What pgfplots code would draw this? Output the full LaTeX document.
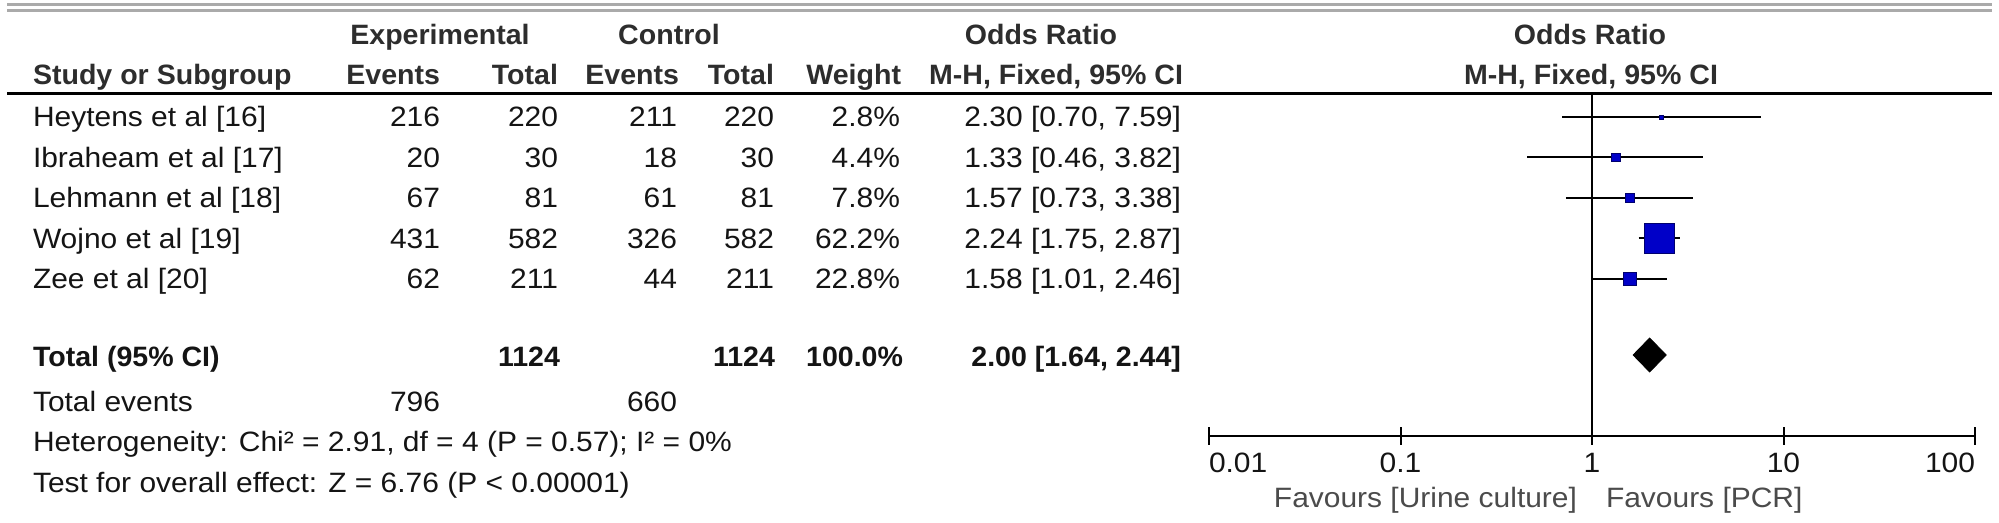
\documentclass[border=0pt]{standalone}
\usepackage{fontspec}
\setmainfont{Liberation Sans}[FakeStretch=1.07,BoldFeatures={FakeStretch=1.02}]
\usepackage{pgfplots}
\pgfplotsset{compat=1.18}
\definecolor{sqfill}{RGB}{0,0,200}
\definecolor{sqdraw}{RGB}{0,0,110}
\definecolor{rulegray}{RGB}{170,170,170}
\definecolor{favgray}{RGB}{75,75,75}
\definecolor{txt}{RGB}{20,20,20}
\definecolor{hdr}{RGB}{45,45,45}
\newcommand\fs{\fontsize{14}{17}\selectfont}
\begin{document}
\begin{tikzpicture}[font=\fs,
  lt/.style={inner sep=0pt,outer sep=0pt,anchor=base west,text=txt},
  rt/.style={inner sep=0pt,outer sep=0pt,anchor=base east,text=txt},
  ct/.style={inner sep=0pt,outer sep=0pt,anchor=base,text=txt}]
\begin{scope}[x=0.5pt,y=-0.5pt]
\useasboundingbox (0,0) rectangle (1999,523);
% rules
\draw[rulegray, line width=1.5pt] (7,5) -- (1992,5);
\draw[rulegray, line width=1.5pt] (7,11) -- (1992,11);
\draw[black, line width=1.5pt] (7,94) -- (1992,94);
% header row 1
\begin{scope}[every node/.append style={font=\fs\bfseries}]
\node[ct,text=hdr] at (440,45) {Experimental};
\node[ct,text=hdr] at (669,45) {Control};
\node[ct,text=hdr] at (1041,45) {Odds Ratio};
\node[ct,text=hdr] at (1590,45) {Odds Ratio};
% header row 2
\node[lt,text=hdr] at (33,85) {Study or Subgroup};
\node[rt,text=hdr] at (440,85) {Events};
\node[rt,text=hdr] at (558,85) {Total};
\node[rt,text=hdr] at (679,85) {Events};
\node[rt,text=hdr] at (774,85) {Total};
\node[rt,text=hdr] at (901,85) {Weight};
\node[rt,text=hdr] at (1183,85) {M-H, Fixed, 95\% CI};
\node[ct,text=hdr] at (1591,85) {M-H, Fixed, 95\% CI};
\end{scope}
% study rows
\newcommand\srow[8]{%
  \node[lt] at (33,#1) {#2};
  \node[rt] at (440,#1) {#3};
  \node[rt] at (558,#1) {#4};
  \node[rt] at (677,#1) {#5};
  \node[rt] at (774,#1) {#6};
  \node[rt] at (900,#1) {#7};
  \node[rt] at (1181,#1) {#8};}
\srow{127}{Heytens et al [16]}{216}{220}{211}{220}{2.8\%}{2.30 [0.70, 7.59]}
\srow{167.5}{Ibraheam et al [17]}{20}{30}{18}{30}{4.4\%}{1.33 [0.46, 3.82]}
\srow{208}{Lehmann et al [18]}{67}{81}{61}{81}{7.8\%}{1.57 [0.73, 3.38]}
\srow{248.5}{Wojno et al [19]}{431}{582}{326}{582}{62.2\%}{2.24 [1.75, 2.87]}
\srow{289}{Zee et al [20]}{62}{211}{44}{211}{22.8\%}{1.58 [1.01, 2.46]}
% total
\begin{scope}[every node/.append style={font=\fs\bfseries}]
\node[lt] at (33,367) {Total (95\% CI)};
\node[rt] at (560,367) {1124};
\node[rt] at (775,367) {1124};
\node[rt] at (903,367) {100.0\%};
\node[rt] at (1181,367) {2.00 [1.64, 2.44]};
\end{scope}
\node[lt] at (33,412) {Total events};
\node[rt] at (440,412) {796};
\node[rt] at (677,412) {660};
\node[lt] at (33,452) {Heterogeneity: Chi² = 2.91, df = 4 (P = 0.57); I² = 0\%};
\node[lt] at (33,493) {Test for overall effect: Z = 6.76 (P < 0.00001)};
% favours
\node[rt,text=favgray] at (1577,508) {Favours [Urine culture]};
\node[lt,text=favgray] at (1606,508) {Favours [PCR]};
\end{scope}
% forest plot
\begin{axis}[at={(604.5pt,-218pt)}, anchor=south west, scale only axis,
  width=383pt, height=170.5pt,
  xmode=log, log basis x=10, xmin=0.01, xmax=100, ymin=0, ymax=341,
  axis x line=bottom, axis y line=none,
  axis line style={-, line width=1pt, black},
  xtick={0.01,0.1,1,10,100},
  xticklabels={\makebox[0pt][l]{0.01},0.1,1,10,\makebox[0pt][r]{100}},
  tick align=center, major tick length=9pt,
  major tick style={black, line width=1pt},
  minor tick length=0pt, minor x tick style={draw=none},
  xticklabel style={font=\fs, text=txt, anchor=base, inner sep=0pt, yshift=-14pt},
  clip=false,
  ci/.style={black, line width=1pt, no marks},
  sq/.style={only marks, mark=square*, mark options={fill=sqfill, draw=sqdraw, line width=0.4pt}},
]
\addplot[black, line width=1pt, no marks] coordinates {(1,0) (1,342)};
\addplot[ci] coordinates {(0.70,319) (7.59,319)};
\addplot[ci] coordinates {(0.46,278.5) (3.82,278.5)};
\addplot[ci] coordinates {(0.73,238) (3.38,238)};
\addplot[ci] coordinates {(1.75,197.5) (2.87,197.5)};
\addplot[ci] coordinates {(1.01,157) (2.46,157)};
\addplot[sq, mark size=1pt] coordinates {(2.30,319)};
\addplot[sq, mark size=2.1pt] coordinates {(1.33,278.5)};
\addplot[sq, mark size=2.2pt] coordinates {(1.57,238)};
\addplot[sq, mark size=7.5pt] coordinates {(2.24,197.5)};
\addplot[sq, mark size=3.2pt] coordinates {(1.58,157)};
\addplot[fill=black, draw=black, no marks] coordinates {(1.64,81) (2.00,98) (2.44,81) (2.00,64)} -- cycle;
\end{axis}
\end{tikzpicture}
\end{document}
